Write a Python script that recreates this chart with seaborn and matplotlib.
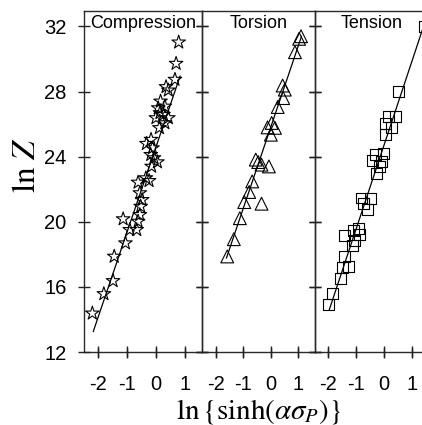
import matplotlib
matplotlib.use("Agg")
import matplotlib.pyplot as plt
import seaborn as sns
import pandas as pd

# ---- data ----
comp_x = [-2.21, -1.81, -1.49, -1.45, -1.06, -1.14, -0.91, -0.67, -0.62, -0.56,
          -0.53, -0.48, -0.56, -0.62, -0.24, -0.35, -0.15, 0.05, -0.18, -0.12,
          -0.33, -0.17, -0.07, 0.12, 0.00, 0.14, 0.43, 0.31, 0.08, 0.16,
          0.31, 0.26, 0.35, 0.43, 0.66, 0.70, 0.79]
comp_y = [14.38, 15.57, 16.37, 17.87, 18.69, 20.17, 19.51, 19.51, 20.02, 20.43,
          20.94, 21.35, 21.77, 22.42, 22.52, 22.69, 23.40, 23.67, 24.12, 24.53,
          24.80, 25.05, 23.92, 25.77, 26.38, 26.69, 26.38, 26.07, 26.99, 27.40,
          27.09, 26.58, 28.29, 28.08, 28.74, 29.72, 31.03]
comp_fit_x = [-2.18, 0.84]
comp_fit_y = [13.25, 28.96]

tors_x = [-1.58, -1.34, -1.12, -0.33, -0.96, -0.78, -0.67, -0.54, -0.45, -0.33,
          -0.06, 0.01, -0.11, 0.04, 0.16, 0.26, 0.46, 0.44, 0.52, 0.89, 1.04, 1.11]
tors_y = [17.87, 18.93, 20.22, 21.11, 21.21, 21.83, 22.48, 23.82, 23.67, 23.51,
          23.40, 25.35, 25.80, 26.07, 25.77, 27.05, 27.60, 28.37, 28.12, 30.42,
          31.24, 31.40]
tors_fit_x = [-1.61, 1.13]
tors_fit_y = [17.77, 31.40]

tens_x = [-2.00, -1.85, -1.55, -1.49, -1.28, -1.43, -1.13, -1.07, -1.43, -1.10,
          -0.92, -0.89, -0.80, -0.74, -0.59, -0.48, -0.41, -0.29, -0.26, -0.17,
          -0.08, 0.00, 0.04, 0.07, 0.16, 0.28, 0.40, 0.51, 1.47]
tens_y = [14.89, 15.57, 16.53, 17.19, 17.25, 17.87, 18.52, 18.85, 19.16, 19.47,
          19.61, 19.20, 21.46, 21.11, 20.74, 21.42, 23.75, 24.12, 22.99, 23.40,
          23.71, 24.18, 26.03, 25.35, 26.48, 25.77, 26.44, 28.02, 32.00]
tens_fit_x = [-1.97, 1.50]
tens_fit_y = [14.58, 32.40]

titles = ["Compression", "Torsion", "Tension"]
markers = ["*", "^", "s"]
marker_sizes = [105, 85, 62]
y_ticks = [12, 16, 20, 24, 28, 32]
x_ticks = [-2, -1, 0, 1]
x_tick_labels = ["-2", "-1", "0", "1"]

sns.set_style("ticks")
plt.rcParams["font.family"] = ["Liberation Sans", "DejaVu Sans"]
plt.rcParams["mathtext.fontset"] = "stix"
plt.rcParams["axes.axisbelow"] = False
plt.rcParams["text.color"] = "black"
plt.rcParams["axes.labelcolor"] = "black"

W, H = 422, 425
fig = plt.figure(figsize=(W / 100, H / 100), dpi=100)

top_px, bot_px = 11, 352
panels_px = [(84, 202), (202, 315), (315, 429)]
datasets = [(comp_x, comp_y, comp_fit_x, comp_fit_y),
            (tors_x, tors_y, tors_fit_x, tors_fit_y),
            (tens_x, tens_y, tens_fit_x, tens_fit_y)]
xlims = [(-2.5, 1.6), (-2.5, 1.62), (-2.48, 1.62)]
tick_half = 4.5 / (bot_px - top_px)  # half tick length in axes fraction

for i, ((x0, x1), (xs, ys, fx, fy)) in enumerate(zip(panels_px, datasets)):
    ax = fig.add_axes([x0 / W, (H - bot_px) / H, (x1 - x0) / W, (bot_px - top_px) / H])
    ax.set_facecolor("none")
    df = pd.DataFrame({"x": xs, "y": ys})
    fit = pd.DataFrame({"x": fx, "y": fy})
    sns.lineplot(data=fit, x="x", y="y", sort=False, color="black", linewidth=0.9, ax=ax)
    sns.scatterplot(data=df, x="x", y="y", marker=markers[i], s=marker_sizes[i],
                    facecolor="none", edgecolor="black", linewidth=0.8, ax=ax,
                    clip_on=False, zorder=3)
    ax.set_xlim(*xlims[i])
    ax.set_ylim(12, 32.95)
    ax.set_xticks(x_ticks, labels=x_tick_labels)
    ax.set_yticks(y_ticks)
    ax.set_xlabel("")
    ax.set_ylabel("")
    ax.set_axisbelow(False)
    for s in ax.spines.values():
        s.set_visible(True)
        s.set_color("#2a2a2a")
        s.set_linewidth(1.0)
    ax.tick_params(axis="x", which="major", direction="inout", length=9, width=1.0,
                   color="#222222", labelcolor="black", labelsize=14.5, pad=12,
                   bottom=True, top=False)
    ax.tick_params(axis="y", which="major", direction="inout", length=9, width=1.0,
                   color="#222222", labelcolor="black", labelsize=14.5, pad=8,
                   left=True, right=True, labelleft=(i == 0))
    # crossing tick marks on the bottom axis, placed at the tick values
    ax.vlines(x_ticks, -tick_half, tick_half, transform=ax.get_xaxis_transform(),
              colors="#222222", linewidth=1.0, clip_on=False, zorder=5)
    ax.text(0.5, 0.987, titles[i], transform=ax.transAxes, ha="center", va="top",
            fontsize=13, color="black")
    if i == 0:
        ax.set_ylabel(r"$\ln\,Z$", fontsize=24, labelpad=6, color="black")
        ax.yaxis.set_label_coords(-0.36, 0.55)
    if i == 1:
        ax.set_xlabel(r"$\ln\{\sinh(\alpha\sigma_P)\}$", fontsize=21, labelpad=2,
                      color="black")

fig.savefig("out.png", dpi=100, facecolor="white")
